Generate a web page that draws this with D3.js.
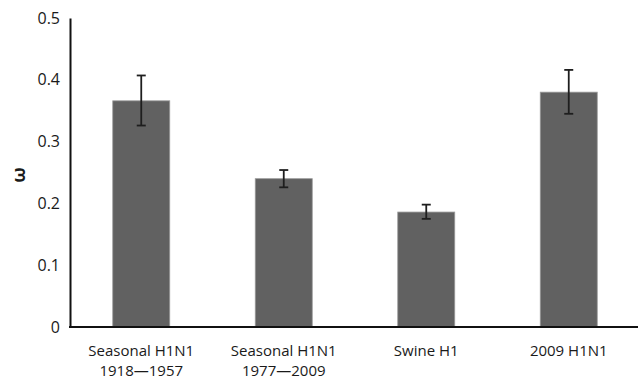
<!DOCTYPE html>
<html lang="en">
<head>
    <script src="https://d3js.org/d3.v7.min.js"></script>
    <style>
        body { margin: 0; background: #fff; }
        text { font-family: "Open Sans", sans-serif; fill: #1a1a1a; }
    </style>
</head>
<body>
    <div id="chart"></div>
<script>
    // values
    const categories = ["Seasonal H1N1|1918\u20141957", "Seasonal H1N1|1977\u20142009", "Swine H1", "2009 H1N1"]
    const omega = [0.366, 0.240, 0.186, 0.380]
    const errLow = [0.326, 0.226, 0.175, 0.345]
    const errHigh = [0.407, 0.254, 0.198, 0.416]
    const yTicks = [0, 0.1, 0.2, 0.3, 0.4, 0.5]

    const width = 640
    const height = 382
    const mLeft = 70, mRight = 640, mTop = 18, mBottom = 327

    const data = categories.map((c, i) => ({cat: c, val: omega[i], lo: errLow[i], hi: errHigh[i]}))

    const x = d3.scaleBand().domain(categories).range([mLeft, mRight]).paddingInner(0.6).paddingOuter(0.3)
    const y = d3.scaleLinear().domain([0, 0.5]).range([mBottom, mTop])

    const svg = d3.select("#chart").append("svg")
        .attr("width", width)
        .attr("height", height)

    // bars
    svg.selectAll("rect.bar")
        .data(data)
        .join("rect")
        .attr("class", "bar")
        .attr("x", d => x(d.cat))
        .attr("y", d => y(d.val))
        .attr("width", x.bandwidth())
        .attr("height", d => y(0) - y(d.val))
        .attr("fill", "#616161")
        .attr("stroke", "#9a9a9a")
        .attr("stroke-width", 0.8)

    // error bars
    const err = svg.selectAll("g.err")
        .data(data)
        .join("g")
        .attr("class", "err")
        .attr("stroke", "#1e1e1e")
        .attr("stroke-width", 1.8)
    err.append("line")
        .attr("x1", d => x(d.cat) + x.bandwidth() / 2)
        .attr("x2", d => x(d.cat) + x.bandwidth() / 2)
        .attr("y1", d => y(d.lo))
        .attr("y2", d => y(d.hi))
    err.append("line")
        .attr("x1", d => x(d.cat) + x.bandwidth() / 2 - 4.5)
        .attr("x2", d => x(d.cat) + x.bandwidth() / 2 + 4.5)
        .attr("y1", d => y(d.hi))
        .attr("y2", d => y(d.hi))
    err.append("line")
        .attr("x1", d => x(d.cat) + x.bandwidth() / 2 - 4.5)
        .attr("x2", d => x(d.cat) + x.bandwidth() / 2 + 4.5)
        .attr("y1", d => y(d.lo))
        .attr("y2", d => y(d.lo))

    // y axis
    const yAxis = d3.axisLeft(y).tickValues(yTicks).tickSize(0).tickPadding(10)
        .tickFormat(d => d === 0 ? "0" : d3.format(".1f")(d))
    const gy = svg.append("g")
        .attr("transform", "translate(" + mLeft + ",0)")
        .call(yAxis)
    gy.select(".domain").attr("stroke", "#111").attr("stroke-width", 2)
    gy.selectAll(".tick text").style("font-size", "16px").attr("fill", "#1a1a1a")

    // x axis
    const xAxis = d3.axisBottom(x).tickSize(0).tickFormat("")
    const gx = svg.append("g")
        .attr("transform", "translate(0," + mBottom + ")")
        .call(xAxis)
    gx.select(".domain").attr("stroke", "#111").attr("stroke-width", 2.2)
        .attr("d", "M" + (mLeft - 1) + ",0H" + (mRight - 2))

    // category labels (two lines)
    svg.selectAll("text.cat")
        .data(categories)
        .join("text")
        .attr("class", "cat")
        .attr("text-anchor", "middle")
        .style("font-size", "15px")
        .each(function(d) {
            const parts = d.split("|")
            parts.forEach((p, i) => {
                d3.select(this).append("tspan")
                    .attr("x", x(d) + x.bandwidth() / 2)
                    .attr("y", 355.5 + i * 20.5)
                    .text(p)
            })
        })

    // y label: omega, rotated
    svg.append("text")
        .attr("transform", "translate(18,175) rotate(-90)")
        .attr("text-anchor", "middle")
        .attr("dominant-baseline", "central")
        .style("font-size", "18px")
        .style("font-weight", "bold")
        .text("\u03c9")
</script>
</body>
</html>
